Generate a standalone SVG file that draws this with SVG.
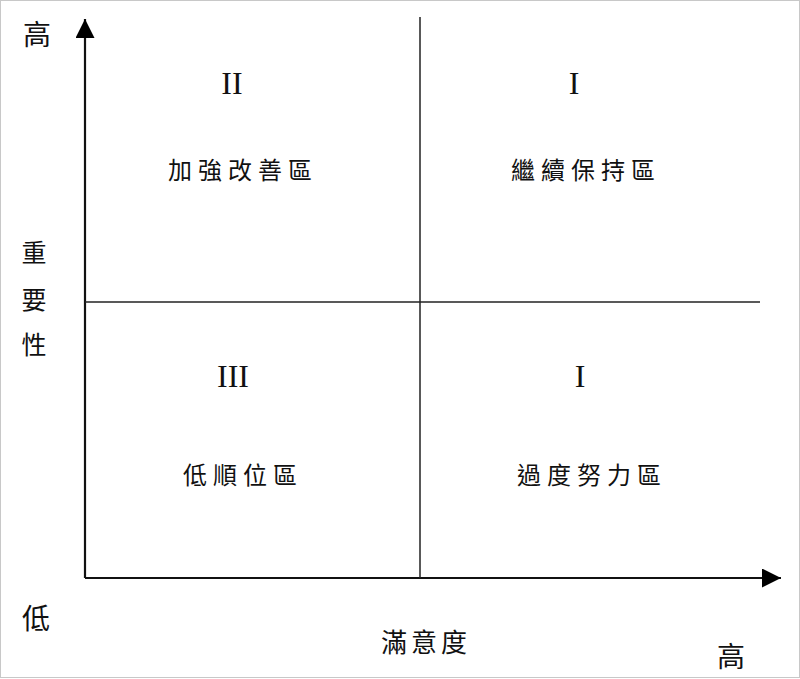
<svg xmlns="http://www.w3.org/2000/svg" width="800" height="679" viewBox="0 0 800 679">
<style>
.cjk{font-family:"Noto Sans CJK TC","Noto Sans CJK SC",sans-serif;fill:#111;text-anchor:middle}
.lbl{font-size:24px;letter-spacing:6px}
.ax{font-size:28px}
.rom{font-family:"Liberation Serif","Times New Roman",serif;font-size:32px;fill:#111;text-anchor:middle}
.axis{stroke:#111;stroke-width:2.2;fill:none}
.div{stroke:#222;stroke-width:1.5;fill:none}
</style>
<defs>
<marker id="arr" viewBox="0 0 10 10" refX="10" refY="5" markerWidth="19" markerHeight="19" markerUnits="userSpaceOnUse" orient="auto">
<path d="M0,0 L10,5 L0,10 Z" fill="#000"/>
</marker>
</defs>
<rect x="0.5" y="0.5" width="799" height="677" fill="#fff" stroke="#c8c8c8" stroke-width="1"/>
<g id="connectors">
<path class="axis" d="M85,578 L85,19" marker-end="url(#arr)"/>
<path class="axis" d="M85,578 L781,578" marker-end="url(#arr)"/>
<line class="div" x1="420" y1="17" x2="420" y2="578"/>
<line class="div" x1="85" y1="302" x2="760" y2="302"/>
</g>
<g id="axis-labels">
<text class="cjk ax" x="37" y="45">高</text>
<text class="cjk" style="font-size:25px" x="34" y="262">重</text>
<text class="cjk" style="font-size:25px" x="34" y="309">要</text>
<text class="cjk" style="font-size:25px" x="34" y="354">性</text>
<text class="cjk ax" x="36" y="629">低</text>
<text class="cjk" style="font-size:26px;letter-spacing:4px" x="426" y="652">滿意度</text>
<text class="cjk ax" x="731" y="667">高</text>
</g>
<g id="q2">
<text class="rom" x="232" y="94">II</text>
<text class="cjk lbl" x="243" y="179">加強改善區</text>
</g>
<g id="q1">
<text class="rom" x="574" y="94">I</text>
<text class="cjk lbl" x="586" y="179">繼續保持區</text>
</g>
<g id="q3">
<text class="rom" x="233" y="387">III</text>
<text class="cjk lbl" x="243" y="484">低順位區</text>
</g>
<g id="q4">
<text class="rom" x="580" y="387">I</text>
<text class="cjk lbl" x="592" y="484">過度努力區</text>
</g>
</svg>
